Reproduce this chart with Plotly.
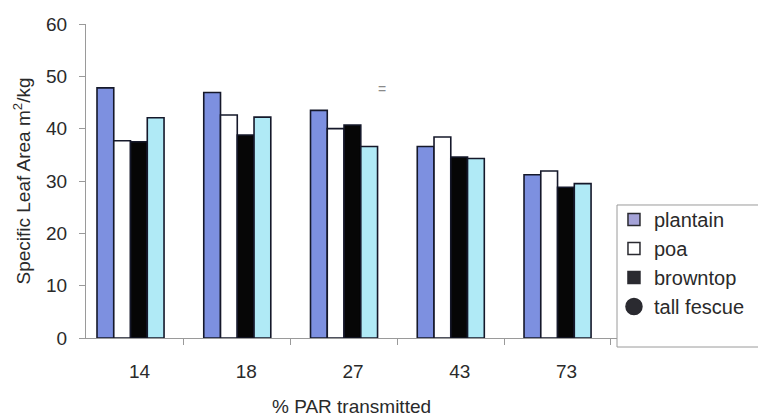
import plotly.graph_objects as go

# Specific leaf area by shade level and species
par_levels = ["14", "18", "27", "43", "73"]
plantain = [47.8, 46.9, 43.5, 36.6, 31.2]
poa = [37.7, 42.6, 40.0, 38.4, 31.9]
browntop = [37.5, 38.8, 40.7, 34.6, 28.8]
tall_fescue = [42.1, 42.2, 36.6, 34.3, 29.5]

species = ["plantain", "poa", "browntop", "tall fescue"]
bar_colors = ["#7d90e0", "#ffffff", "#060606", "#b0eaf6"]
series = [plantain, poa, browntop, tall_fescue]

# legend swatches as printed in the key
key_symbols = ["square", "square", "square", "circle"]
key_colors = ["#a5a3d8", "#ffffff", "#2a2a30", "#2a2a30"]
key_sizes = [12, 12, 12, 16]

font = "Liberation Sans, Arial, sans-serif"
text_col = "#2a2a2a"

fig = go.Figure()
for name, vals, col in zip(species, series, bar_colors):
    fig.add_trace(go.Bar(
        x=par_levels, y=vals, name=name, showlegend=False,
        marker=dict(color=col, line=dict(color="#15182a", width=1.6)),
    ))

for name, sym, col, sz in zip(species, key_symbols, key_colors, key_sizes):
    fig.add_trace(go.Scatter(
        x=[None], y=[None], mode="markers", name=name,
        marker=dict(symbol=sym, color=col, size=sz,
                    line=dict(color="#2a2a30", width=1.5)),
    ))

fig.update_layout(
    width=758, height=418,
    margin=dict(l=86, r=141, t=24, b=80, autoexpand=False),
    paper_bgcolor="white", plot_bgcolor="white",
    barmode="group", bargap=0.372, bargroupgap=0,
    font=dict(family=font, size=18, color=text_col),
    legend=dict(
        x=1.0056, xanchor="left", y=0.4395, yanchor="top",
        borderwidth=0, bgcolor="rgba(0,0,0,0)",
        font=dict(size=20, color=text_col), itemwidth=30,
        tracegroupgap=0, indentation=-6,
    ),
    # frame around the key, running off the right edge
    shapes=[dict(type="rect", xref="paper", yref="paper",
                 x0=1.0, x1=1.28, y0=-0.0287, y1=0.4236,
                 line=dict(color="#9a9a9a", width=1), fillcolor="white",
                 layer="below")],
    annotations=[dict(x=2.36, y=47.6, xref="x", yref="y", text="=",
                      showarrow=False, font=dict(size=14, color="#8a8a8a"))],
)

fig.update_xaxes(
    range=[-0.417, 4.557], automargin=False,
    showline=True, linecolor="#9a9a9a", linewidth=1, layer="below traces",
    ticks="outside", ticklen=6, tickcolor="#9a9a9a", tickson="boundaries",
    ticklabelshift=9, ticklabelstandoff=16,
    tickfont=dict(size=19),
    title=dict(text="% PAR transmitted", font=dict(size=19), standoff=18),
    showgrid=False, zeroline=False,
)
fig.update_yaxes(
    range=[0, 60], dtick=10, automargin=False,
    showline=True, linecolor="#9a9a9a", linewidth=1,
    ticks="outside", ticklen=6, tickcolor="#9a9a9a",
    ticklabelstandoff=8, tickfont=dict(size=19),
    title=dict(text="Specific Leaf Area m<sup>2</sup>/kg", font=dict(size=19), standoff=10),
    showgrid=False, zeroline=False,
)

fig.write_html("out.html")
